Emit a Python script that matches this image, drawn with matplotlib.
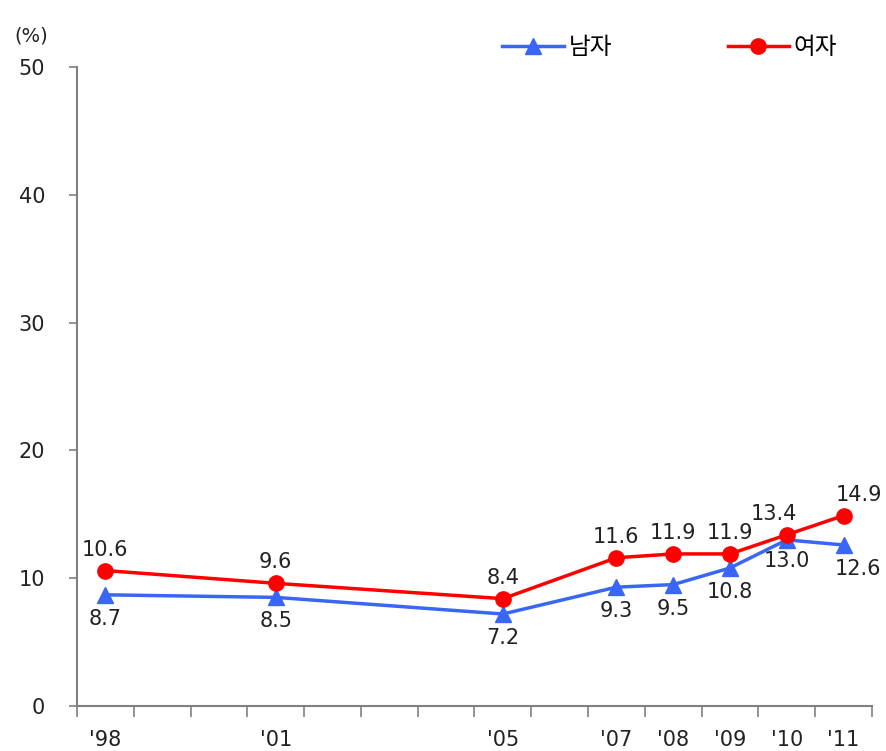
import matplotlib
matplotlib.use("Agg")
import matplotlib.pyplot as plt

plt.rcParams['font.family'] = ['DejaVu Sans', 'Noto Sans CJK KR']

years = [1998, 2001, 2005, 2007, 2008, 2009, 2010, 2011]
year_labels = ["'98", "'01", "'05", "'07", "'08", "'09", "'10", "'11"]
men = [8.7, 8.5, 7.2, 9.3, 9.5, 10.8, 13.0, 12.6]
women = [10.6, 9.6, 8.4, 11.6, 11.9, 11.9, 13.4, 14.9]
series_names = ["남자", "여자"]

first_year, last_year = 1998, 2011
xs = [y - first_year + 0.5 for y in years]

fig = plt.figure(figsize=(8.87, 7.51), dpi=100)
ax = fig.add_axes([0.0868, 0.0599, 0.8962, 0.8509])

blue = '#3A66F5'
red = '#FF0000'
txt = '#222222'

l1, = ax.plot(xs, men, color=blue, lw=2.5, marker='^', ms=11, label=series_names[0], zorder=3)
l2, = ax.plot(xs, women, color=red, lw=2.5, marker='o', ms=11, label=series_names[1], zorder=4)

w_dx = {6: -13, 7: 15}
m_dx = {7: 14}
m_dy = {6: -21}
for i, (x, v) in enumerate(zip(xs, women)):
    ax.annotate(f"{v:.1f}", (x, v), xytext=(w_dx.get(i, 0), 21), textcoords='offset pixels',
                ha='center', va='center', fontsize=15, color=txt)
for i, (x, v) in enumerate(zip(xs, men)):
    ax.annotate(f"{v:.1f}", (x, v), xytext=(m_dx.get(i, 0), m_dy.get(i, -24)), textcoords='offset pixels',
                ha='center', va='center', fontsize=15, color=txt)

ax.set_xlim(0, last_year - first_year + 1)
ax.set_ylim(0, 50)
ax.set_yticks([0, 10, 20, 30, 40, 50])
ax.tick_params(axis='y', labelsize=15, colors='#808080', labelcolor=txt, length=6, width=1.2, pad=17)

ax.set_xticks(range(0, last_year - first_year + 2))
ax.set_xticklabels([])
ax.tick_params(axis='x', which='major', length=8, width=1.2, colors='#808080', direction='out')
ax.set_xticks(xs, minor=True)
ax.set_xticklabels(year_labels, minor=True)
ax.tick_params(axis='x', which='minor', length=0, labelsize=15, labelcolor=txt, pad=17)

for s in ['top', 'right']:
    ax.spines[s].set_visible(False)
for s in ['left', 'bottom']:
    ax.spines[s].set_color('#808080')
    ax.spines[s].set_linewidth(1.5)

fig.text(0.035, 0.952, "(%)", fontsize=14, color=txt, va='center', ha='center')

leg = fig.legend(handles=[l1, l2], loc='center', bbox_to_anchor=(0.755, 0.937), ncol=2,
                 frameon=False, handlelength=2.6, columnspacing=4.9, handletextpad=0.2,
                 prop={'family': ['Noto Sans CJK KR'], 'size': 17})

fig.savefig('out.png', dpi=100)
